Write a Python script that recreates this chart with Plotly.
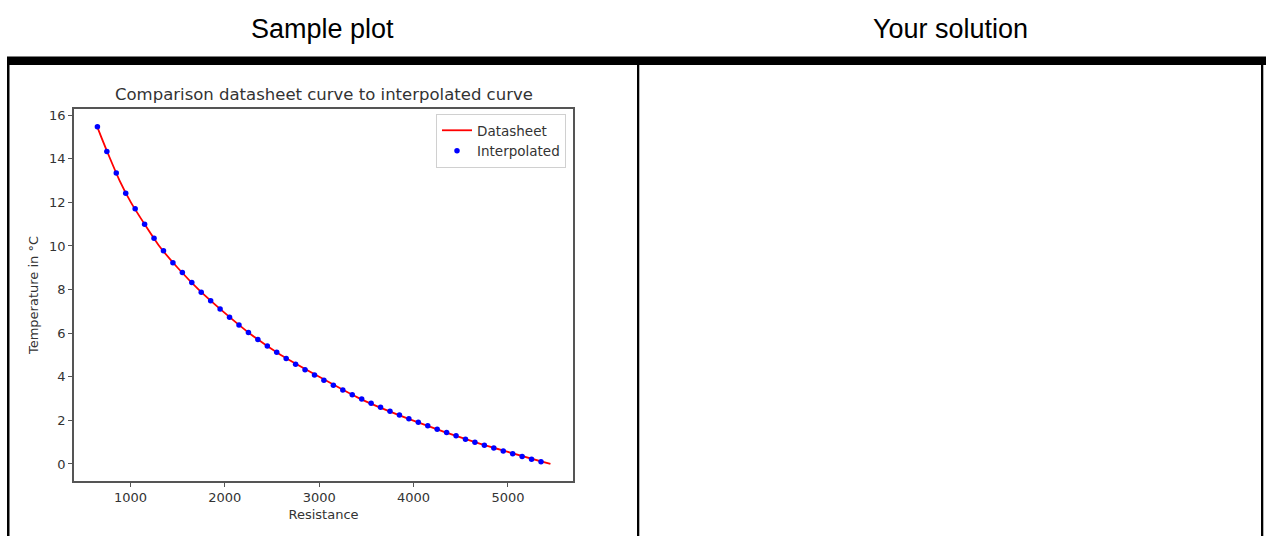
import plotly.graph_objects as go

W, H = 1266, 536

# ---- data ----
interp_resistance = [650, 750, 850, 950, 1050, 1150, 1250, 1350, 1450, 1550,
                     1650, 1750, 1850, 1950, 2050, 2150, 2250, 2350, 2450, 2550,
                     2650, 2750, 2850, 2950, 3050, 3150, 3250, 3350, 3450, 3550,
                     3650, 3750, 3850, 3950, 4050, 4150, 4250, 4350, 4450, 4550,
                     4650, 4750, 4850, 4950, 5050, 5150, 5250, 5350]
interp_temperature = [15.47, 14.33, 13.34, 12.42, 11.70, 11.00, 10.35, 9.78, 9.23, 8.78,
                      8.32, 7.88, 7.49, 7.11, 6.73, 6.37, 6.03, 5.71, 5.41, 5.12,
                      4.84, 4.57, 4.32, 4.08, 3.84, 3.61, 3.39, 3.18, 2.98, 2.79,
                      2.60, 2.42, 2.25, 2.08, 1.91, 1.75, 1.59, 1.44, 1.29, 1.14,
                      1.00, 0.86, 0.73, 0.60, 0.47, 0.34, 0.22, 0.10]

datasheet_temperature = [15.5, 15, 14, 13, 12, 11, 10, 9, 8, 7, 6, 5, 4, 3, 2, 1, 0]
datasheet_resistance = [645, 690, 785, 885, 1005, 1150, 1305, 1500, 1723, 1980,
                        2260, 2593, 3000, 3430, 3990, 4650, 5450]

x_ticks = [1000, 2000, 3000, 4000, 5000]
y_ticks = [0, 2, 4, 6, 8, 10, 12, 14, 16]

header_left = "Sample plot"
header_right = "Your solution"
chart_title = "Comparison datasheet curve to interpolated curve"
x_label = "Resistance"
y_label = "Temperature in °C"

# ---- layout helpers (pixel -> paper) ----
def px(x):
    return x / W

def py(y):
    return 1 - y / H

ax_l, ax_r, ax_t, ax_b = 74, 573, 109, 481
axis_color = "#555555"
text_color = "#333333"
chart_font = "DejaVu Sans"

fig = go.Figure()
fig.add_trace(go.Scatter(
    x=datasheet_resistance, y=datasheet_temperature, mode="lines",
    name="Datasheet", line=dict(color="#ff0000", width=1.8, shape="spline", smoothing=0.6),
))
fig.add_trace(go.Scatter(
    x=interp_resistance, y=interp_temperature, mode="markers",
    name="Interpolated", marker=dict(color="#0000ff", size=5.5),
))

fig.update_layout(
    width=W, height=H,
    margin=dict(l=0, r=0, t=0, b=0),
    paper_bgcolor="white", plot_bgcolor="white",
    showlegend=True,
    legend=dict(
        x=px(566), y=py(114), xanchor="right", yanchor="top",
        bgcolor="white", bordercolor="#d0d0d0", borderwidth=1,
        font=dict(family=chart_font, size=13.5, color=text_color),
        itemwidth=30, tracegroupgap=0,
    ),
    xaxis=dict(
        domain=[px(ax_l), px(ax_r)], range=[402, 5689],
        tickvals=x_ticks, ticktext=[str(v) for v in x_ticks],
        ticks="outside", ticklen=4, tickwidth=1, tickcolor=axis_color,
        showline=True, linecolor=axis_color, linewidth=1.5, mirror=True,
        showgrid=False, zeroline=False,
        tickfont=dict(family=chart_font, size=13, color=text_color),
        title=dict(text=x_label, standoff=6,
                   font=dict(family=chart_font, size=13, color=text_color)),
    ),
    yaxis=dict(
        domain=[py(ax_b), py(ax_t)], range=[-0.78, 16.28],
        tickvals=y_ticks, ticktext=[str(v) for v in y_ticks],
        ticks="outside", ticklen=4, tickwidth=1, tickcolor=axis_color,
        showline=True, linecolor=axis_color, linewidth=1.5, mirror=True,
        showgrid=False, zeroline=False,
        tickfont=dict(family=chart_font, size=13, color=text_color),
        title=dict(text=y_label, standoff=8,
                   font=dict(family=chart_font, size=13, color=text_color)),
    ),
)

annotations = [
    dict(text=header_left, x=px(322), y=py(29), xref="paper", yref="paper",
         xanchor="center", yanchor="middle", showarrow=False,
         font=dict(family="Liberation Sans", size=27, color="black")),
    dict(text=header_right, x=px(950), y=py(29), xref="paper", yref="paper",
         xanchor="center", yanchor="middle", showarrow=False,
         font=dict(family="Liberation Sans", size=27, color="black")),
    dict(text=chart_title, x=px((ax_l + ax_r) / 2), y=py(94), xref="paper", yref="paper",
         xanchor="center", yanchor="middle", showarrow=False,
         font=dict(family=chart_font, size=16.5, color=text_color)),
]
fig.update_layout(annotations=annotations)

shapes = [
    # thick top rule
    dict(type="rect", xref="paper", yref="paper", x0=px(7), x1=px(1266), y0=py(65), y1=py(56.5),
         fillcolor="black", line=dict(width=0), layer="above"),
    # vertical borders
    dict(type="rect", xref="paper", yref="paper", x0=px(7), x1=px(9.5), y0=py(536), y1=py(60),
         fillcolor="black", line=dict(width=0), layer="above"),
    dict(type="rect", xref="paper", yref="paper", x0=px(637), x1=px(639.3), y0=py(536), y1=py(60),
         fillcolor="black", line=dict(width=0), layer="above"),
    dict(type="rect", xref="paper", yref="paper", x0=px(1261), x1=px(1263.3), y0=py(536), y1=py(60),
         fillcolor="black", line=dict(width=0), layer="above"),
]
fig.update_layout(shapes=shapes)

fig.write_html(
    "out.html",
    config={"displayModeBar": False},
    post_script="document.body.style.margin='0';document.body.style.overflow='hidden';",
)
